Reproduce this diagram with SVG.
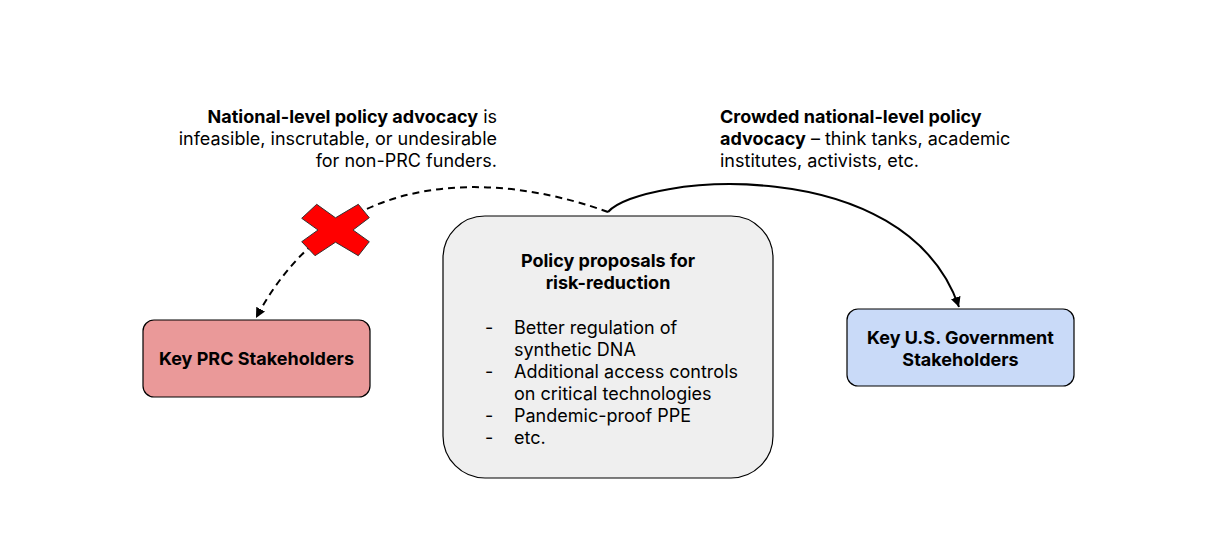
<svg xmlns="http://www.w3.org/2000/svg" width="1217" height="541" viewBox="0 0 1217 541">
<defs>
<style>
text{font-family:Inter,"Liberation Sans",sans-serif;font-size:18px;fill:#000}
.b{font-weight:bold}
.c{text-anchor:middle}
.r{text-anchor:end}
.box{stroke:#000;stroke-width:1.2}
.conn{fill:none;stroke:#000;stroke-width:2}
</style>
<marker id="ah" viewBox="0 0 10 10" refX="10" refY="5" markerWidth="5" markerHeight="5" orient="auto" markerUnits="strokeWidth">
<path d="M0,0 L10,5 L0,10 z" fill="#000"/>
</marker>
</defs>
<rect width="1217" height="541" fill="#fff"/>
<g id="connectors">
<path class="conn" d="M608,212 C520,180 345,150 256,318" stroke-dasharray="7,5" marker-end="url(#ah)"/>
<path class="conn" d="M608,212 C640,175 905,150 959,307" marker-end="url(#ah)"/>
</g>
<g id="cross">
<polygon points="316.7,204.3 335.5,217.8 358.3,204.3 369.3,217.7 353,230 369.3,241.7 358.3,255.7 335.5,242.2 315,255.7 301.7,241.7 318,230 301.7,218.3" fill="#ff0000" stroke="#333" stroke-width="1"/>
</g>
<g id="note-left">
<text class="r" x="497" y="122.5"><tspan class="b">National-level policy advocacy</tspan> is</text>
<text class="r" x="497" y="144.5">infeasible, inscrutable, or undesirable</text>
<text class="r" x="497" y="166.5">for non-PRC funders.</text>
</g>
<g id="note-right">
<text x="720" y="122.5" class="b">Crowded national-level policy</text>
<text x="720" y="144.5"><tspan class="b">advocacy</tspan> – think tanks, academic</text>
<text x="720" y="166.5">institutes, activists, etc.</text>
</g>
<g id="node-proposals">
<rect class="box" x="443" y="216" width="330" height="262" rx="42" ry="42" fill="#efefef"/>
<text class="b c" x="608" y="267">Policy proposals for</text>
<text class="b c" x="608" y="289">risk-reduction</text>
<text x="485" y="333.5">-</text><text x="514" y="333.5">Better regulation of</text>
<text x="514" y="355.5">synthetic DNA</text>
<text x="485" y="377.5">-</text><text x="514" y="377.5">Additional access controls</text>
<text x="514" y="399.5">on critical technologies</text>
<text x="485" y="421.5">-</text><text x="514" y="421.5">Pandemic-proof PPE</text>
<text x="485" y="443.5">-</text><text x="514" y="443.5">etc.</text>
</g>
<g id="node-prc">
<rect class="box" x="143" y="320" width="227" height="77" rx="11" ry="11" fill="#ea9999"/>
<text class="b c" x="256.5" y="365">Key PRC Stakeholders</text>
</g>
<g id="node-us">
<rect class="box" x="847" y="309" width="227" height="77" rx="11" ry="11" fill="#c9daf8"/>
<text class="b c" x="960.5" y="344">Key U.S. Government</text>
<text class="b c" x="960.5" y="366">Stakeholders</text>
</g>
</svg>
